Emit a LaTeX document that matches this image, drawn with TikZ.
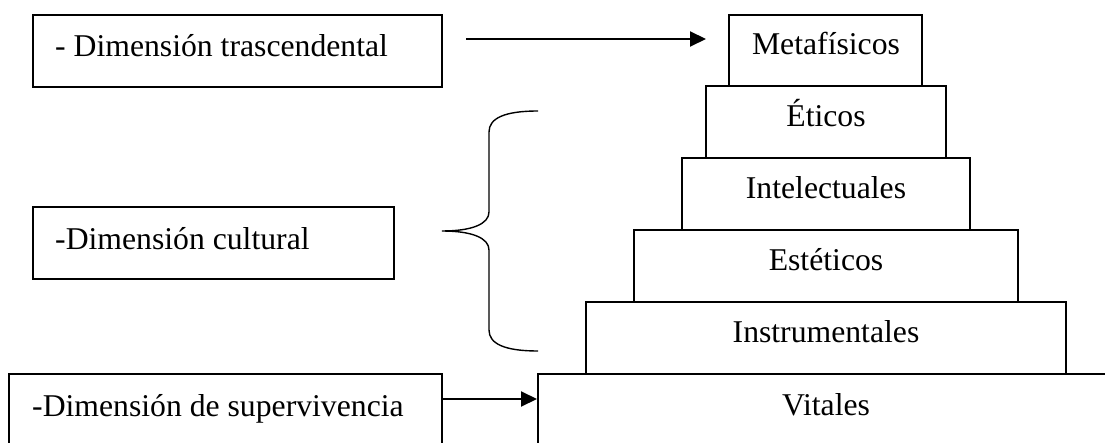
\documentclass[tikz,border=0pt]{standalone}
\usepackage{fontspec}
\setmainfont{Liberation Serif}
\usetikzlibrary{arrows.meta}
\begin{document}
\begin{tikzpicture}[x=1pt,y=-1pt,
  box/.style={draw, line width=2pt, rectangle, inner sep=0pt},
  txt/.style={inner sep=0pt, font=\fontsize{31.7}{38}\selectfont},
  arr/.style={line width=2pt, -{Triangle[length=16pt,width=15pt]}},
  bracepath/.style={line width=1.4pt}]
\useasboundingbox (0,0) rectangle (1105,443);
\clip (0,0) rectangle (1105,443);
% left boxes
\node[box, minimum width=409pt, minimum height=72pt] (trasc) at (237.5,51) {};
\node[txt, anchor=base west] (ttrasc) at (55,57) {- Dimensión trascendental};
\node[box, minimum width=361pt, minimum height=72pt] (cult) at (213.5,243) {};
\node[txt, anchor=base west] (tcult) at (55,250) {-Dimensión cultural};
\node[box, minimum width=433pt, minimum height=72pt] (super) at (225.5,410) {};
\node[txt, anchor=base west] (tsuper) at (32,416) {-Dimensión de supervivencia};
% pyramid
\node[box, minimum width=193pt, minimum height=71pt] (meta) at (825.5,50.5) {};
\node[txt, anchor=base] (tmeta) at (826,55) {Metafísicos};
\node[box, minimum width=240pt, minimum height=72pt] (etic) at (826,122) {};
\node[txt, anchor=base] (tetic) at (826,127) {Éticos};
\node[box, minimum width=288pt, minimum height=72pt] (intel) at (826,194) {};
\node[txt, anchor=base] (tintel) at (826,199) {Intelectuales};
\node[box, minimum width=384pt, minimum height=72pt] (estet) at (826,266) {};
\node[txt, anchor=base] (testet) at (826,271) {Estéticos};
\node[box, minimum width=480pt, minimum height=72pt] (instr) at (826,338) {};
\node[txt, anchor=base] (tinstr) at (826,343) {Instrumentales};
\node[box, minimum width=576pt, minimum height=72pt] (vital) at (826,410) {};
\node[txt, anchor=base] (tvital) at (826,415) {Vitales};
% arrows
\draw[arr] ([xshift=23pt,yshift=12pt]trasc.east) -- ([xshift=-22pt,yshift=11.5pt]meta.west);
\coordinate (a2) at (0,399);
\draw[arr] (super.east |- a2) -- (vital.west |- a2);
% brace
\draw[bracepath] (538,111) .. controls (505,111) and (489,118) .. (489,132) -- (489,212)
  .. controls (489,224) and (472,231) .. (442,231)
  .. controls (472,231) and (489,238) .. (489,250) -- (489,330)
  .. controls (489,344) and (505,351) .. (538,351);
\end{tikzpicture}
\end{document}
